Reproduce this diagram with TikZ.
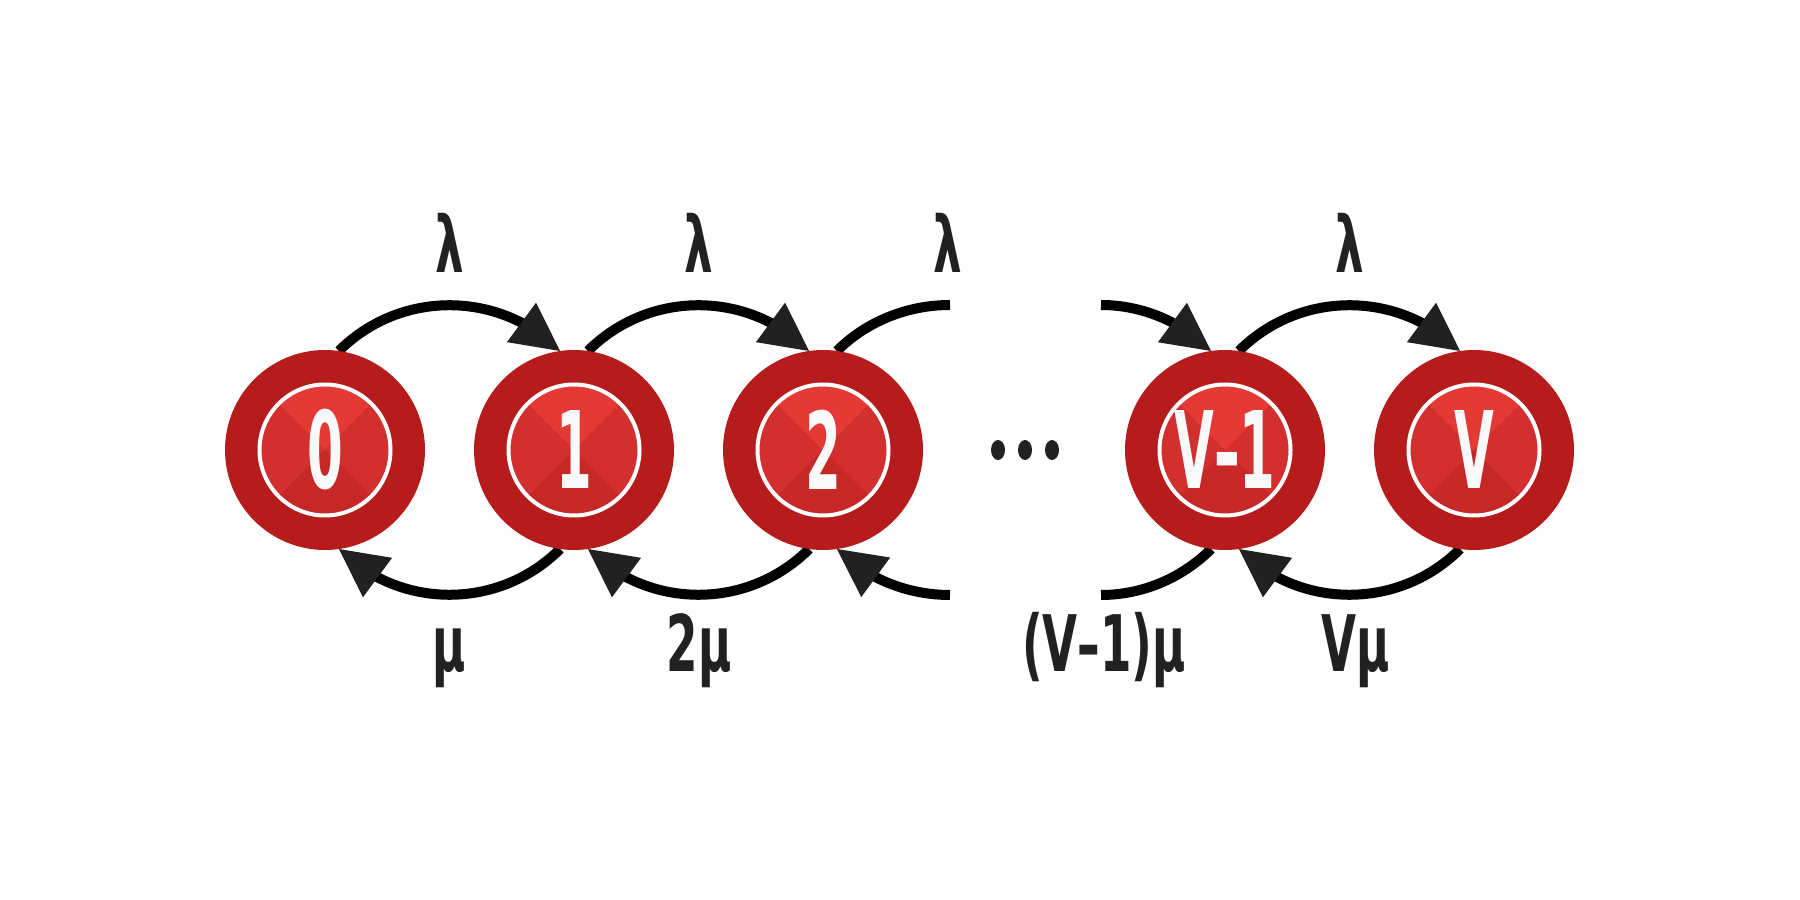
\documentclass[tikz,border=0pt]{standalone}
\usepackage{fontspec}
\usetikzlibrary{arrows.meta,bending,backgrounds}
\newfontfamily\labfont[FakeStretch=0.58]{DejaVu Sans}
\newfontfamily\numfont[FakeStretch=0.48]{DejaVu Sans}
\definecolor{ringred}{HTML}{B71C1C}
\definecolor{topred}{HTML}{E53935}
\definecolor{sidered}{HTML}{D32F2F}
\definecolor{botred}{HTML}{C62828}
\definecolor{tipgray}{HTML}{212121}
\definecolor{txtwhite}{HTML}{FAFAFA}
\tikzset{
  state/.style={circle, minimum size=200pt, inner sep=0pt, outer sep=0pt,
    fill=ringred, text=txtwhite,
    font=\numfont\bfseries\fontsize{107}{107}\selectfont,
    path picture={
      \fill[sidered] (path picture bounding box.center) circle[radius=63.5pt];
      \fill[topred] (path picture bounding box.center) -- ++(45:63.5pt)
        arc[start angle=45,end angle=135,radius=63.5pt] -- cycle;
      \fill[botred] (path picture bounding box.center) -- ++(-45:63.5pt)
        arc[start angle=-45,end angle=-135,radius=63.5pt] -- cycle;
      \draw[white, line width=4pt] (path picture bounding box.center) circle[radius=65.5pt];
    }},
  rate/.style={text=tipgray, anchor=base, inner sep=0pt,
    font=\labfont\bfseries\fontsize{78}{78}\selectfont},
  trans/.style={line width=10pt, draw=black,
    -{Triangle[length=48pt,width=49pt,line width=0pt,color=tipgray]}},
  plain/.style={line width=10pt, draw=black},
}
\begin{document}
\begin{tikzpicture}[x=1pt,y=1pt]
\useasboundingbox (0,0) rectangle (1800,900);

\node[state] (n0) at (325,450) {0};
\node[state] (n1) at (574,450) {1};
\node[state] (n2) at (823,450) {2};
\node[state] (n4) at (1225,450) {V–1};
\node[state] (n5) at (1474,450) {V};

\coordinate (ctl) at (950,595);
\coordinate (ctr) at (1101,595);
\coordinate (cbl) at (950,305);
\coordinate (cbr) at (1101,305);

\begin{scope}[on background layer]
  \fill[white] (0,0) rectangle (1800,900);
  \draw[trans] (n0.82) to[out=45,in=135] (n1.98);
  \draw[trans] (n1.82) to[out=45,in=135] (n2.98);
  \draw[plain] (n2.82) to[out=45,in=180,looseness=0.885] (ctl);
  \draw[trans] (ctr) to[out=0,in=135,looseness=0.885] (n4.98);
  \draw[trans] (n4.82) to[out=45,in=135] (n5.98);

  \draw[trans] (n1.262) to[out=-135,in=-45] (n0.278);
  \draw[trans] (n2.262) to[out=-135,in=-45] (n1.278);
  \draw[trans] (cbl) to[out=180,in=-45,looseness=0.885] (n2.278);
  \draw[plain] (n4.262) to[out=-135,in=0,looseness=0.885] (cbr);
  \draw[trans] (n5.262) to[out=-135,in=-45] (n4.278);
\end{scope}

\fill[tipgray] (998,450) ellipse[x radius=7, y radius=10];
\fill[tipgray] (1025,450) ellipse[x radius=7, y radius=10];
\fill[tipgray] (1052,450) ellipse[x radius=7, y radius=10];

\node[rate] (l01) at (449.5,627) {λ};
\node[rate] (l12) at (698.5,627) {λ};
\node[rate] (l23) at (947.5,627) {λ};
\node[rate] (l45) at (1349.5,627) {λ};

\node[rate] (m10) at (449,228) {μ};
\node[rate] (m21) at (699,228) {2μ};
\node[rate] (m43) at (1104,228) {(V–1)μ};
\node[rate] (m54) at (1356,228) {Vμ};
\end{tikzpicture}
\end{document}
